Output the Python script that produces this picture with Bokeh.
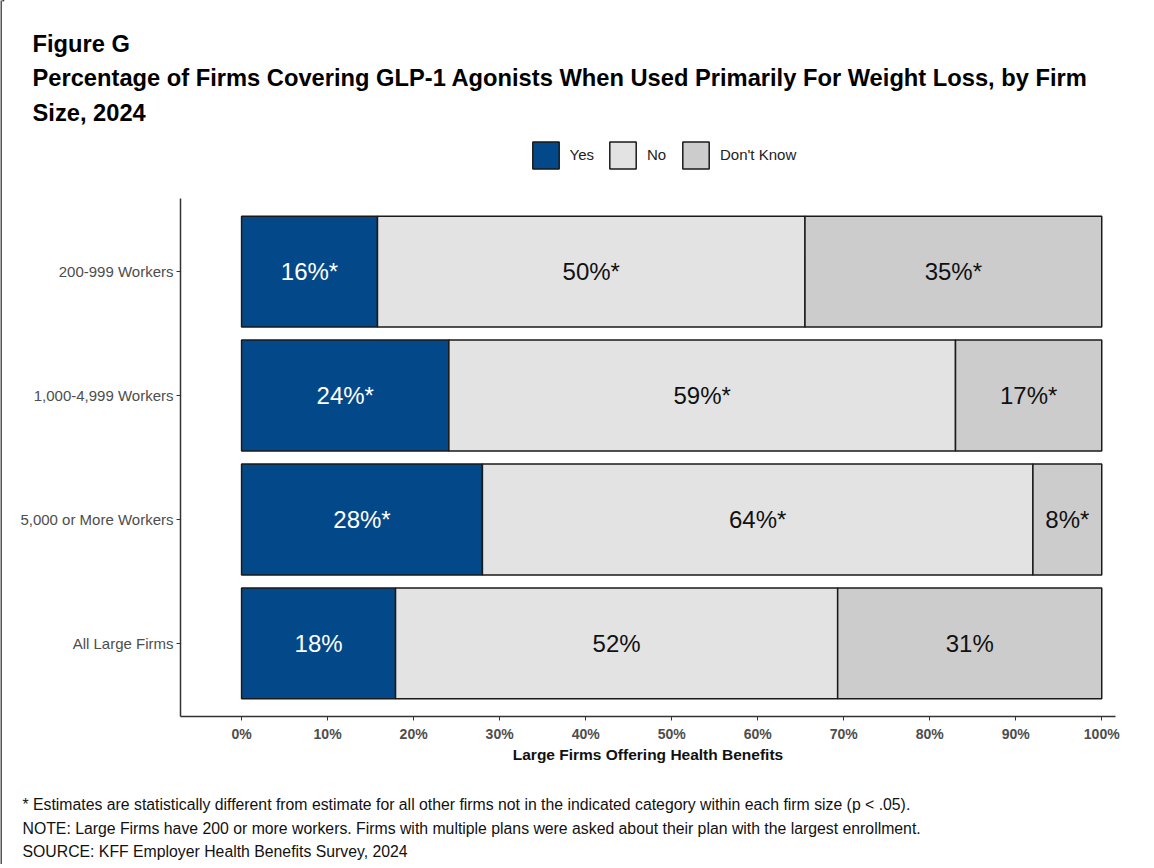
from bokeh.plotting import figure
from bokeh.layouts import column, row
from bokeh.models import (Range1d, FixedTicker, Label, Legend, LegendItem,
                          ColumnDataSource)
from bokeh.core.properties import value
from bokeh.embed import file_html
from bokeh.resources import INLINE

# ---------------- data ----------------
categories = ["200-999 Workers", "1,000-4,999 Workers", "5,000 or More Workers", "All Large Firms"]
yes_vals = [15.8, 24.1, 28.0, 17.9]
no_vals = [49.7, 58.9, 64.0, 51.4]
dk_vals = [34.5, 17.0, 8.0, 30.7]
yes_labels = ["16%*", "24%*", "28%*", "18%"]
no_labels = ["50%*", "59%*", "64%*", "52%"]
dk_labels = ["35%*", "17%*", "8%*", "31%"]
series_names = ["Yes", "No", "Don't Know"]
x_ticks = [0, 10, 20, 30, 40, 50, 60, 70, 80, 90, 100]

title_lines = ["Figure G",
               "Percentage of Firms Covering GLP-1 Agonists When Used Primarily For Weight Loss, by Firm",
               "Size, 2024"]
notes = ["* Estimates are statistically different from estimate for all other firms not in the indicated category within each firm size (p < .05).",
         "NOTE: Large Firms have 200 or more workers.  Firms with multiple plans were asked about their plan with the largest enrollment.",
         "SOURCE: KFF Employer Health Benefits Survey, 2024"]
x_title = "Large Firms Offering Health Benefits"

FONT = "Liberation Sans"
colors = ["#03498a", "#e3e3e3", "#cccccc"]
text_colors = ["white", "#111111", "#111111"]
BAR_LINE = "#1a1a1a"

OFF = 2          # width of the left frame line
W = 1150 - OFF
TOP_H, MAIN_H, BOT_H = 180, 590, 94


def blank_fig(w, h, bg="white"):
    f = figure(width=w, height=h, output_backend="svg", toolbar_location=None,
               x_range=Range1d(0, w), y_range=Range1d(h, 0),
               x_axis_type=None, y_axis_type=None,
               min_border=0, min_border_left=0, min_border_right=0,
               min_border_top=0, min_border_bottom=0, frame_align=False)
    f.outline_line_color = None
    f.xgrid.visible = False
    f.ygrid.visible = False
    f.background_fill_color = bg
    f.border_fill_color = bg
    return f


# ---------------- top: titles + legend ----------------
top = blank_fig(W, TOP_H)
title_y = [43, 77, 112]
for t, yy in zip(title_lines, title_y):
    top.add_layout(Label(x=32 - OFF, y=yy, text=t, text_font=FONT, text_font_size="23.7px",
                         text_font_style="bold", text_baseline="middle",
                         text_color="#000000"))

leg_renderers = []
for k in range(3):
    src0 = ColumnDataSource(dict(y=[-1000], left=[0], right=[1]))
    r0 = top.hbar(y="y", left="left", right="right", height=1, source=src0,
                  fill_color=colors[k], line_color=BAR_LINE, line_width=1.5)
    leg_renderers.append(r0)
legend = Legend(items=[LegendItem(label=s, renderers=[r]) for s, r in zip(series_names, leg_renderers)],
                orientation="horizontal", location=(528.5 - OFF, 8.5),
                glyph_width=33, glyph_height=34, label_text_font=FONT,
                label_text_font_size="15px", label_text_color="#222222",
                label_height=34, label_standoff=8, spacing=12, padding=0, margin=0,
                border_line_color=None, background_fill_alpha=0)
top.add_layout(legend, "center")

# ---------------- main chart ----------------
n = len(categories)
ypos = [n - 1 - i for i in range(n)]

p = figure(width=W, height=MAIN_H, output_backend="svg", toolbar_location=None,
           x_range=Range1d(-7.1, 101.6), y_range=Range1d(-0.59, n - 1 + 0.59),
           min_border_left=180 - OFF, min_border_right=1150 - 1115, min_border_top=18,
           min_border_bottom=54, frame_align=False)
p.outline_line_color = None
p.xgrid.visible = False
p.ygrid.visible = False
p.background_fill_color = "white"
p.border_fill_color = "white"

starts = [0.0] * n
label_sets = [yes_labels, no_labels, dk_labels]
for k, vals in enumerate([yes_vals, no_vals, dk_vals]):
    left = list(starts)
    right = [a + b for a, b in zip(left, vals)]
    mid = [(a + b) / 2 for a, b in zip(left, right)]
    src = ColumnDataSource(dict(y=ypos, left=left, right=right, mid=mid, lab=label_sets[k]))
    p.hbar(y="y", left="left", right="right", height=0.895, source=src,
           fill_color=colors[k], line_color=BAR_LINE, line_width=1.5)
    p.text(x="mid", y="y", text="lab", source=src, text_align="center",
           text_baseline="middle", text_font=value(FONT), text_font_size="24px",
           text_color=text_colors[k])
    starts = right

p.yaxis.ticker = FixedTicker(ticks=ypos)
p.yaxis.major_label_overrides = {yp: c for yp, c in zip(ypos, categories)}
p.yaxis.major_label_text_font = FONT
p.yaxis.major_label_text_font_size = "15px"
p.yaxis.major_label_text_color = "#4d4d4d"
p.yaxis.major_tick_in = 0
p.yaxis.major_tick_out = 4
p.yaxis.minor_tick_line_color = None
p.yaxis.axis_line_color = "#333333"
p.yaxis.axis_line_width = 1.5
p.yaxis.major_tick_line_color = "#333333"
p.yaxis.major_label_standoff = 3

p.xaxis.ticker = FixedTicker(ticks=x_ticks)
p.xaxis.major_label_overrides = {t: f"{t}%" for t in x_ticks}
p.xaxis.major_label_text_font = FONT
p.xaxis.major_label_text_font_size = "14px"
p.xaxis.major_label_text_font_style = "bold"
p.xaxis.major_label_text_color = "#4d4d4d"
p.xaxis.major_tick_in = 0
p.xaxis.major_tick_out = 4
p.xaxis.minor_tick_line_color = None
p.xaxis.axis_line_color = "#333333"
p.xaxis.axis_line_width = 1.5
p.xaxis.major_tick_line_color = "#333333"
p.xaxis.major_label_standoff = 5
p.xaxis.axis_label = x_title
p.xaxis.axis_label_text_font = FONT
p.xaxis.axis_label_text_font_size = "15.5px"
p.xaxis.axis_label_text_font_style = "bold"
p.xaxis.axis_label_text_color = "#111111"
p.xaxis.axis_label_standoff = 1

# ---------------- bottom notes ----------------
bot = blank_fig(W, BOT_H)
note_y = [34, 58, 81]
for t, yy in zip(notes, note_y):
    bot.add_layout(Label(x=22 - OFF, y=yy, text=t, text_font=FONT, text_font_size="15.8px",
                         text_baseline="middle", text_color="#111111"))

# thin left frame line of the original image
edge = blank_fig(OFF, TOP_H + MAIN_H + BOT_H, bg="#555555")

layout = row(edge, column(top, p, bot, spacing=0), spacing=0)
open("out.html", "w").write(file_html(layout, INLINE))
